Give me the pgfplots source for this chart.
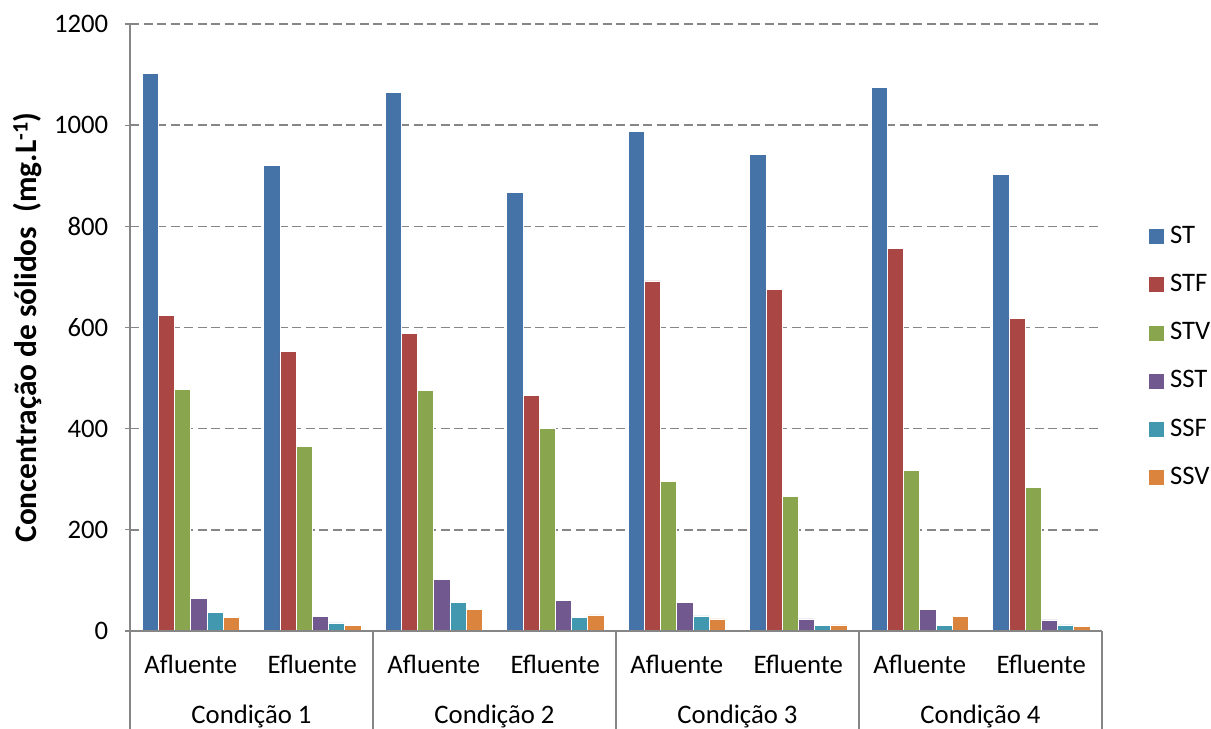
\documentclass[border=0pt]{standalone}
\usepackage{pgfplots}
\pgfplotsset{compat=1.18}
\usepackage{fontspec}
\setmainfont{Carlito}

\definecolor{cST}{HTML}{4572A7}
\definecolor{cSTF}{HTML}{AA4643}
\definecolor{cSTV}{HTML}{89A54E}
\definecolor{cSST}{HTML}{71588F}
\definecolor{cSSF}{HTML}{4198AF}
\definecolor{cSSV}{HTML}{DB843D}
\definecolor{axisgray}{HTML}{868686}

% x = 0..7 : Afluente/Efluente of Condição 1..4
\pgfplotstableread{
x  ST    STF  STV  SST  SSF  SSV
0  1103  624  478  64   36   27
1  920   553  365  29   16   11
2  1064  588  475  102  57   42
3  867   466  400  60   27   32
4  988   692  296  56   30   24
5  942   675  266  24   11   12
6  1074  757  317  42   11   29
7  903   618  284  22   12   9
}\solids

\newcommand{\lblfont}{\fontsize{26.8}{32}\selectfont}
\tikzset{sublabel/.style={anchor=base, inner sep=0pt, yshift=-42bp, font=\lblfont},
         condlabel/.style={anchor=base, inner sep=0pt, yshift=-92bp, font=\lblfont}}

\begin{document}
\begin{tikzpicture}
\path[use as bounding box, clip] (0bp,0bp) rectangle (1211bp,-729bp);
\begin{axis}[
  at={(130bp,-631bp)}, anchor=south west,
  scale only axis, width=972bp, height=607bp,
  clip=false,
  font=\lblfont,
  ybar=0pt, bar width=16.2bp,
  xmin=-0.5, xmax=7.5, ymin=0, ymax=1200,
  ytick={0,200,...,1200},
  xtick={-0.5,1.5,3.5,5.5,7.5}, xticklabels={},
  xtick style={/pgfplots/major tick length=98bp},
  ytick style={/pgfplots/major tick length=5bp},
  tick align=outside,
  tick style={axisgray, line width=1.3bp},
  axis x line*=bottom, axis y line*=left,
  axis line style={axisgray, line width=1.3bp, -},
  ymajorgrids,
  major grid style={axisgray, line width=1.4bp, dash pattern=on 9bp off 4.5bp},
  /pgf/number format/assume math mode=true,
  /pgf/number format/1000 sep={},
  yticklabel style={xshift=-14bp},
  ylabel={\bfseries Concentração de sólidos\ \ (mg.L\textsuperscript{-1})},
  ylabel style={at={(axis description cs:-0.1054,0.5)}, anchor=center,
                font=\fontsize{31.5}{36}\selectfont},
  legend image code/.code={\fill[#1, draw=none] (0bp,-7.5bp) rectangle (15bp,7.5bp);},
  legend style={draw=none, fill=none, at={(axis description cs:1.0483,0.451)}, anchor=west,
    row sep=25.2bp, column sep=6bp, inner sep=0pt,
    nodes={inner sep=0pt, anchor=west, text height=18bp, text depth=5bp, font=\lblfont}},
  legend cell align=left,
  every axis plot/.append style={draw=white, line width=0.6bp},
]
\addplot[fill=cST]  table[x=x, y=ST]  {\solids};
\addplot[fill=cSTF] table[x=x, y=STF] {\solids};
\addplot[fill=cSTV] table[x=x, y=STV] {\solids};
\addplot[fill=cSST] table[x=x, y=SST] {\solids};
\addplot[fill=cSSF] table[x=x, y=SSF] {\solids};
\addplot[fill=cSSV] table[x=x, y=SSV] {\solids};
\legend{ST,STF,STV,SST,SSF,SSV}

% baseline drawn again so it sits over the bar feet
\draw[axisgray, line width=1.3bp] (rel axis cs:0,0) -- (rel axis cs:1,0);

% sub-category and condition labels under the axis
\node[sublabel] at (axis cs:0,0) {Afluente};
\node[sublabel] at (axis cs:1,0) {Efluente};
\node[sublabel] at (axis cs:2,0) {Afluente};
\node[sublabel] at (axis cs:3,0) {Efluente};
\node[sublabel] at (axis cs:4,0) {Afluente};
\node[sublabel] at (axis cs:5,0) {Efluente};
\node[sublabel] at (axis cs:6,0) {Afluente};
\node[sublabel] at (axis cs:7,0) {Efluente};
\node[condlabel] at (axis cs:0.5,0) {Condição 1};
\node[condlabel] at (axis cs:2.5,0) {Condição 2};
\node[condlabel] at (axis cs:4.5,0) {Condição 3};
\node[condlabel] at (axis cs:6.5,0) {Condição 4};
\end{axis}
\end{tikzpicture}
\end{document}
